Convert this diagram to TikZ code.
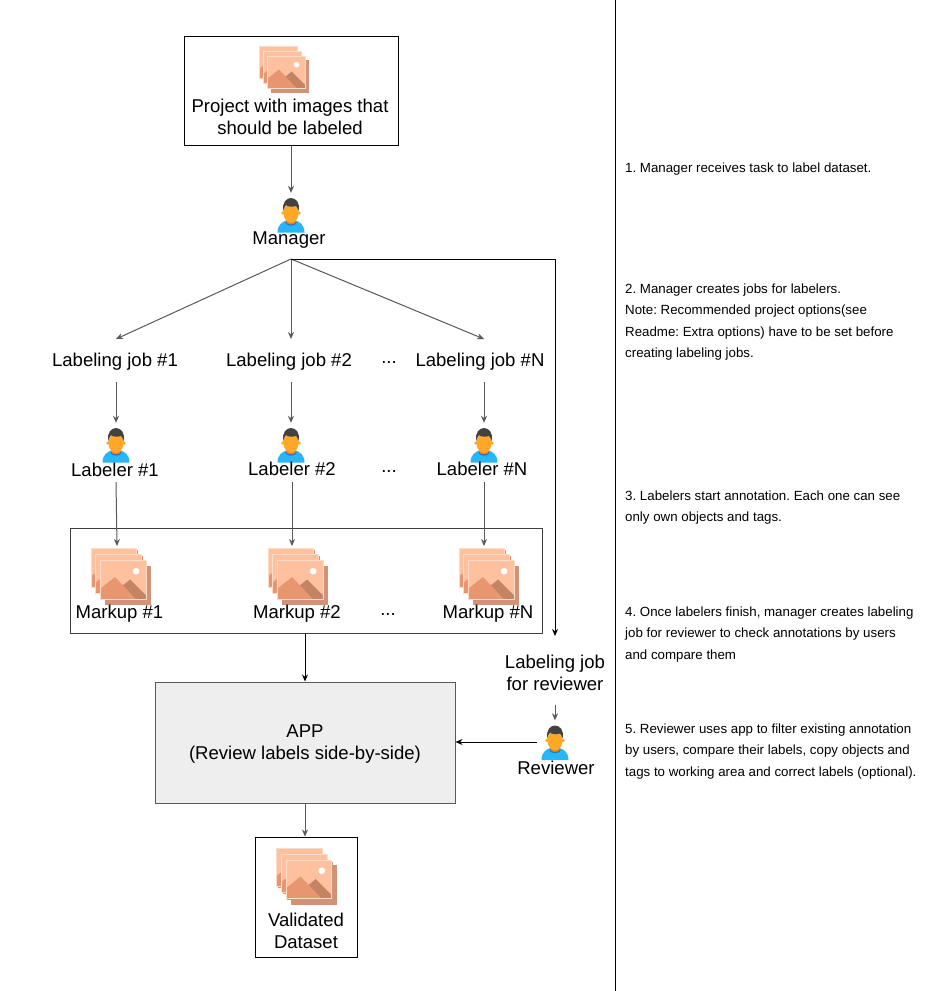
\documentclass[tikz,border=0pt]{standalone}
\usepackage{fontspec}
\setmainfont{Liberation Sans}
\usetikzlibrary{arrows.meta}
\frenchspacing

\definecolor{cardfill}{HTML}{FFC09F}
\definecolor{cardline}{HTML}{FADCC8}
\definecolor{cardshade}{HTML}{D19277}
\definecolor{hillfront}{HTML}{E7966F}
\definecolor{hillback}{HTML}{C48463}
\definecolor{skintone}{HTML}{FFA726}
\definecolor{hairtone}{HTML}{424242}
\definecolor{shirttone}{HTML}{29B6F6}
\definecolor{neckshade}{HTML}{F57C00}
\definecolor{collartone}{HTML}{1976D2}
\definecolor{linegray}{HTML}{595959}
\definecolor{appgray}{HTML}{EEEEEE}

\newcommand{\cardbody}{%
  \fill[cardshade] (-18,-15) rectangle (20,17);
  \fill[cardfill] (-19,-16) rectangle (19,16);
  \fill[hillback] (-1,16) -- (-1,5) -- (5.6,-0.4) -- (19,13) -- (19,16) -- cycle;
  \fill[hillfront] (-19,16) -- (-19,7) -- (-7,-2.5) -- (10.5,16) -- cycle;
  \draw[cardline, line width=0.8pt] (-19,-16) rectangle (19,16);
}

\tikzset{
  imgstack/.pic={
    \begin{scope}[shift={(-8,-10)}]\cardbody\end{scope}
    \begin{scope}[shift={(-4,-5)}]\cardbody\end{scope}
    \fill[cardshade] (-15,-12) rectangle (23,21);
    \cardbody
    \fill[white] (10.6,-7.3) circle (2.8);
  },
  person/.pic={
    \fill[shirttone] (-13.5,17.5) .. controls (-13.5,10) and (-9,6.5) .. (-3,5)
      -- (3,5) .. controls (9,6.5) and (13.5,10) .. (13.5,17.5) -- cycle;
    \fill[collartone] (0,7.5) ellipse (5.6 and 3.2);
    \fill[neckshade] (0,6.5) ellipse (5 and 3);
    \fill[skintone] (-8,-2) circle (1.8);
    \fill[skintone] (8,-2) circle (1.8);
    \fill[skintone] (0,-2) ellipse (7.5 and 10);
    \fill[hairtone] (-7.5,-4) .. controls (-9.5,-13) and (-4,-17) .. (0,-17)
      .. controls (5,-17) and (9.5,-12) .. (7.5,-4) .. controls (7,-6.5) and (6,-8) .. (5,-9)
      .. controls (1,-8) and (-3,-8) .. (-5,-10) .. controls (-6.5,-8.5) and (-7,-6.5) .. (-7.5,-4) -- cycle;
  },
  lbl/.style={font=\fontsize{18.55}{22}\selectfont, align=center, inner sep=0pt},
  note/.style={font=\fontsize{13.3}{21.4}\selectfont, align=left, anchor=north west, inner sep=0pt},
  box/.style={draw=black, line width=1pt},
  iconspot/.style={inner sep=0pt, minimum width=28pt, minimum height=44pt},
  arrow/.style={draw=linegray, line width=1pt, -{Stealth[length=7pt,width=6pt]}},
  darrow/.style={draw=black, line width=1pt, -{Stealth[length=7pt,width=6pt]}}
}

\begin{document}
\begin{tikzpicture}[x=1pt, y=-1pt]
  \useasboundingbox (0,0) rectangle (941,991);
  \fill[white] (0,0) rectangle (941,991);

  % divider
  \coordinate (divtop) at (615,0);
  \coordinate (divbot) at (615,991);
  \draw[line width=1pt] (divtop) -- (divbot);

  % project
  \node[box, minimum width=214pt, minimum height=109pt, inner sep=0pt] (project) at (291,90.5) {};
  \pic at (286,72) {imgstack};
  \node[lbl] (projecttxt) at (290,117) {Project with images that\\should be labeled};

  % manager
  \node[iconspot] (manager) at (291,215) {};
  \pic at (291,215) {person};
  \node[lbl] (managertxt) at (289,240) {Manager};
  \coordinate (fork) at (291,259);
  \draw[arrow] (project.south -| fork) -- (manager.north);

  % labeling jobs
  \foreach \name/\x/\ax/\txt in {jobA/115/116/{Labeling job \#1},jobB/289/291/{Labeling job \#2},jobC/480/484/{Labeling job \#N}}{
    \node[lbl] (\name) at (\x,362) {\txt};
    \coordinate (\name-in) at (\ax,339);
    \coordinate (\name-out) at (\ax,382);
    \draw[arrow] (fork) -- (\name-in);
  }
  \node[lbl] (dotsA) at (389,363) {...};

  % labelers
  \foreach \name/\x/\ax/\ty/\txt in {labA/115/116/470/{Labeler \#1},labB/292/291/469/{Labeler \#2},labC/482/484/469/{Labeler \#N}}{
    \node[iconspot] (\name) at (\ax,445) {};
    \pic at (\ax,445) {person};
    \node[lbl] (\name-txt) at (\x,\ty) {\txt};
    \coordinate (\name-out) at (\ax,482);
  }
  \node[lbl] (dotsB) at (389,472) {...};
  \draw[arrow] (jobA-out) -- (labA.north);
  \draw[arrow] (jobB-out) -- (labB.north);
  \draw[arrow] (jobC-out) -- (labC.north);

  % markup
  \node[box, draw=linegray!70!black, minimum width=472pt, minimum height=105pt, inner sep=0pt] (markup) at (306,580.5) {};
  \foreach \name/\x/\ix/\ax/\txt in {mkA/119.5/123.4/117/{Markup \#1},mkB/297/300.4/292/{Markup \#2},mkC/488/491.4/484/{Markup \#N}}{
    \pic[scale=1.2] at (\ix,580) {imgstack};
    \node[lbl] (\name-txt) at (\x,614) {\txt};
    \coordinate (\name-in) at (\ax,546);
  }
  \node[lbl] (dotsC) at (388,615) {...};
  \draw[arrow] (labA-out) -- (mkA-in);
  \draw[arrow] (labB-out -| mkB-in) -- (mkB-in);
  \draw[arrow] (labC-out) -- (mkC-in);

  % app
  \node[box, draw=linegray, fill=appgray, minimum width=300pt, minimum height=121pt, inner sep=0pt] (app) at (305,742.5) {};
  \node[lbl] (apptxt) at (305,744) {APP\\(Review labels side-by-side)};
  \draw[darrow] (markup.south -| app.north) -- (app.north);

  % reviewer
  \node[lbl] (revjob) at (555,673) {Labeling job\\for reviewer};
  \node[iconspot] (reviewer) at (555,742.5) {};
  \pic at (555,742.5) {person};
  \node[lbl] (reviewertxt) at (556,768) {Reviewer};
  \coordinate (revjobin) at (555,636);
  \coordinate (revjobout) at (555,705);
  \draw[darrow] (fork) -- (555,259) -- (revjobin);
  \draw[arrow] (revjobout) -- (reviewer.north);
  \coordinate (revout) at (537,742);
  \draw[darrow] (revout) -- (revout -| app.east);

  % validated
  \node[box, minimum width=102pt, minimum height=120pt, inner sep=0pt] (valid) at (306,897) {};
  \pic[scale=1.2] at (309,879.5) {imgstack};
  \node[lbl] (validtxt) at (306,931) {Validated\\Dataset};
  \draw[arrow] (app.south) -- (app.south |- valid.north);

  % steps
  \node[note] (stepA) at (625,163) {1. Manager receives task to label dataset.};
  \node[note] (stepB) at (625,283.5) {2. Manager creates jobs for labelers.\\Note: Recommended project options(see\\Readme: Extra options) have to be set before\\creating labeling jobs.};
  \node[note] (stepC) at (625,490.5) {3. Labelers start annotation. Each one can see\\only own objects and tags.};
  \node[note] (stepD) at (625,606.5) {4. Once labelers finish, manager creates labeling\\job for reviewer to check annotations by users\\and compare them};
  \node[note] (stepE) at (625,723.5) {5. Reviewer uses app to filter existing annotation\\by users, compare their labels, copy objects and\\tags to working area and correct labels (optional).};
\end{tikzpicture}
\end{document}
